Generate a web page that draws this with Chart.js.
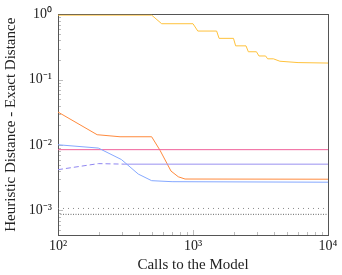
<!DOCTYPE html>
<html><head><meta charset="utf-8">
<script src="https://cdn.jsdelivr.net/npm/chart.js@4/dist/chart.umd.min.js"></script>
<style>html,body{margin:0;padding:0;background:#fff}#wrap{width:342px;height:275px}</style>
</head><body><div id="wrap"><canvas id="c" width="342" height="275"></canvas></div>
<script>
const xTickValues = [100, 1000, 10000];
const yTickValues = [0.001, 0.01, 0.1, 1];

const yellowX = [100, 494, 586, 1000, 1085, 1497, 1560, 1995, 2070, 2470, 2570, 2950, 3080, 3450, 3570, 3940, 4400, 6000, 10000];
const yellowY = [0.975, 0.975, 0.72, 0.72, 0.556, 0.556, 0.43, 0.43, 0.33, 0.33, 0.268, 0.268, 0.231, 0.231, 0.209, 0.209, 0.192, 0.183, 0.18];
const orangeX = [100, 195, 288, 494, 570, 687, 778, 873, 10000];
const orangeY = [0.032, 0.0144, 0.0134, 0.0134, 0.0083, 0.004, 0.00327, 0.00302, 0.003];
const pinkX = [100, 10000];
const pinkY = [0.0085, 0.0085];
const purpleDashX = [100, 199, 313];
const purpleDashY = [0.0042, 0.0052, 0.0051];
const purpleX = [313, 10000];
const purpleY = [0.0051, 0.0051];
const blueX = [100, 199, 295, 393, 494, 700, 10000];
const blueY = [0.0101, 0.009, 0.006, 0.0036, 0.00285, 0.00275, 0.0027];
const dotUpperX = [100, 10000];
const dotUpperY = [0.00107, 0.00107];
const dotLowerX = [100, 10000];
const dotLowerY = [0.00087, 0.00087];

const pts = (xs, ys) => xs.map((x, i) => ({x, y: ys[i]}));
const sup = {'0':'⁰','1':'¹','2':'²','3':'³','4':'⁴','5':'⁵','6':'⁶','7':'⁷','8':'⁸','9':'⁹','-':'⁻'};
function pow10Label(v) {
  const e = Math.round(Math.log10(v));
  return '10' + String(e).split('').map(c => sup[c]).join('');
}
function ds(xs, ys, color, extra) {
  return Object.assign({data: pts(xs, ys), borderColor: color, borderWidth: 1, pointRadius: 0, fill: false, tension: 0}, extra || {});
}

const tickPlugin = {
  id: 'innerTicks',
  beforeDatasetsDraw(chart) {
    const ctx = chart.ctx, a = chart.chartArea;
    const xs = chart.scales.x, ys = chart.scales.y;
    ctx.save();
    ctx.strokeStyle = '#bdbdbd';
    ctx.lineWidth = 1;
    ctx.beginPath();
    for (let e = 2; e <= 4; e++) {
      for (let k = 1; k <= 9; k++) {
        const v = k * Math.pow(10, e);
        if (v > 10000) break;
        const px = Math.round(xs.getPixelForValue(v)) + 0.5;
        const len = k === 1 ? 5 : 3;
        ctx.moveTo(px, a.bottom); ctx.lineTo(px, a.bottom - len);
      }
    }
    for (let e = -4; e <= 0; e++) {
      for (let k = 1; k <= 9; k++) {
        const v = k * Math.pow(10, e);
        if (v < ys.min || v > ys.max) continue;
        const py = Math.round(ys.getPixelForValue(v)) + 0.5;
        const len = k === 1 ? 5 : 3;
        ctx.moveTo(a.left, py); ctx.lineTo(a.left + len, py);
      }
    }
    ctx.stroke();
    ctx.strokeStyle = '#555';
    ctx.strokeRect(Math.round(a.left) + 0.5, Math.round(a.top) + 0.5, Math.round(a.right - a.left), Math.round(a.bottom - a.top));
    ctx.restore();
  }
};

new Chart(document.getElementById('c'), {
  type: 'line',
  data: {
    datasets: [
      ds(dotUpperX, dotUpperY, '#8a8a8a', {borderDash: [1, 4]}),
      ds(dotLowerX, dotLowerY, '#666666', {borderDash: [1, 1.5]}),
      ds(blueX, blueY, '#85a8ff'),
      ds(purpleDashX, purpleDashY, '#8f86f0', {borderDash: [5, 3]}),
      ds(purpleX, purpleY, '#9a90f0'),
      ds(pinkX, pinkY, '#f0609a'),
      ds(orangeX, orangeY, '#ff8a3d'),
      ds(yellowX, yellowY, '#ffc23c')
    ]
  },
  options: {
    responsive: false,
    animation: false,
    events: [],
    layout: {padding: {left: 0, right: 14, top: 10, bottom: 0}},
    plugins: {legend: {display: false}, tooltip: {enabled: false}},
    scales: {
      x: {
        type: 'logarithmic', min: 100, max: 10000,
        grid: {display: false, drawTicks: false},
        border: {display: false},
        afterBuildTicks: s => { s.ticks = xTickValues.map(v => ({value: v})); },
        afterFit: s => { s.height = 40; },
        ticks: {callback: v => pow10Label(v), color: '#222', font: {family: 'Liberation Serif', size: 14}, padding: 3, maxRotation: 0, autoSkip: false},
        title: {display: true, text: 'Calls to the Model', color: '#222', font: {family: 'Liberation Serif', size: 15}, padding: {top: 0, bottom: 1}}
      },
      y: {
        type: 'logarithmic', min: 0.00042, max: 1,
        grid: {display: false, drawTicks: false},
        border: {display: false},
        afterBuildTicks: s => { s.ticks = yTickValues.map(v => ({value: v})); },
        afterFit: s => { s.width = 58; },
        ticks: {callback: v => pow10Label(v), color: '#222', font: {family: 'Liberation Serif', size: 14}, padding: 6, autoSkip: false},
        title: {display: true, text: 'Heuristic Distance - Exact Distance', color: '#222', font: {family: 'Liberation Serif', size: 15}, padding: {top: 2, bottom: 0}}
      }
    }
  },
  plugins: [tickPlugin]
});
</script></body></html>
